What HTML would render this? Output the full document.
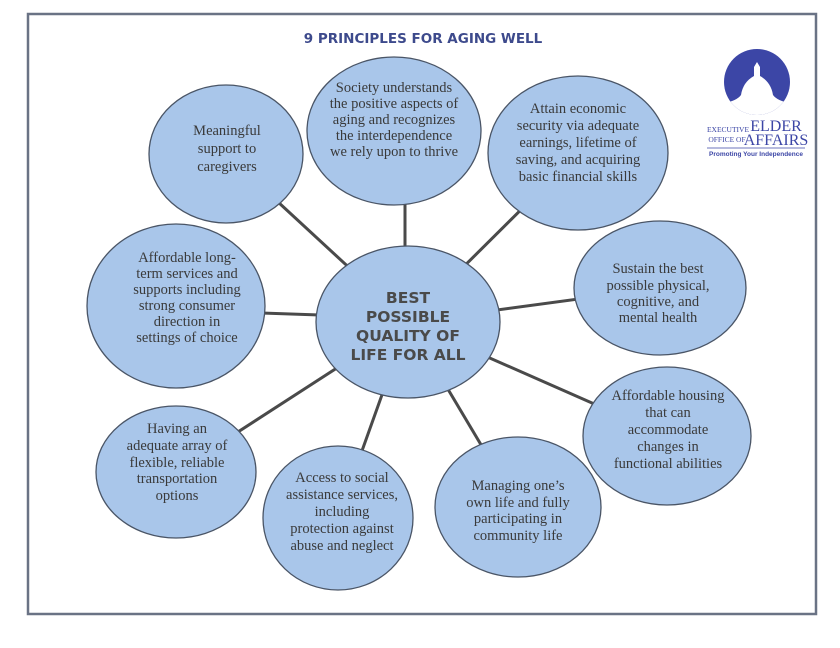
<!DOCTYPE html>
<html><head><meta charset="utf-8"><style>
html,body{margin:0;padding:0;background:#fff;}
svg{display:block}
.t{font-family:"Liberation Serif",serif;font-size:14.5px;fill:#3a3a3a;text-anchor:middle}
.c{font-family:"DejaVu Sans","Liberation Sans",sans-serif;font-weight:bold;font-size:15.5px;fill:#4a4a4a;text-anchor:middle}
</style></head><body>
<svg width="840" height="648" viewBox="0 0 840 648" xmlns="http://www.w3.org/2000/svg">
<rect x="28" y="14" width="788" height="600" fill="none" stroke="#6a7385" stroke-width="2.5"/>
<text x="423" y="43" font-family="DejaVu Sans, Liberation Sans, sans-serif" font-weight="bold" font-size="13.5" fill="#3d4a8c" text-anchor="middle">9 PRINCIPLES FOR AGING WELL</text>
<!-- logo -->
<defs><clipPath id="lc"><circle cx="757" cy="82" r="33"/></clipPath></defs>
<g>
<circle cx="757" cy="82" r="33" fill="#3c46a6"/>
<path clip-path="url(#lc)" d="M718 125 L718 104 Q736 102 741 95 Q743 82 754 76 L754 67 L757 62 L760 67 L760 76 Q771 82 773 95 Q778 102 796 104 L796 125 Z" fill="#fff"/>
<text x="776" y="131" font-family="Liberation Serif,serif" font-size="16" fill="#3c46a6" text-anchor="middle">ELDER</text>
<text x="728" y="132" font-family="Liberation Serif,serif" font-size="7.5" fill="#3c46a6" text-anchor="middle">EXECUTIVE</text>
<text x="727" y="142" font-family="Liberation Serif,serif" font-size="7.5" fill="#3c46a6" text-anchor="middle">OFFICE OF</text>
<text x="776" y="145" font-family="Liberation Serif,serif" font-size="16" fill="#3c46a6" text-anchor="middle">AFFAIRS</text>
<line x1="707" y1="148" x2="805" y2="148" stroke="#3c46a6" stroke-width="0.8"/>
<text x="756" y="156" font-family="Liberation Sans,sans-serif" font-weight="bold" font-size="6.5" fill="#3c46a6" text-anchor="middle">Promoting Your Independence</text>
</g>
<g stroke="#4a4a4a" stroke-width="3">
<line x1="408" y1="322" x2="226" y2="154"/>
<line x1="405" y1="322" x2="405" y2="131"/>
<line x1="408" y1="322" x2="578" y2="153"/>
<line x1="408" y1="318" x2="176" y2="310"/>
<line x1="408" y1="322" x2="660" y2="288"/>
<line x1="408" y1="322" x2="667" y2="436"/>
<line x1="408" y1="322" x2="176" y2="472"/>
<line x1="408" y1="322" x2="338" y2="518"/>
<line x1="408" y1="322" x2="518" y2="507"/>
</g>
<g fill="#a9c6ea" stroke="#4a5566" stroke-width="1.3">
<ellipse cx="226" cy="154" rx="77" ry="69"/>
<ellipse cx="394" cy="131" rx="87" ry="74"/>
<ellipse cx="578" cy="153" rx="90" ry="77"/>
<ellipse cx="176" cy="306" rx="89" ry="82"/>
<ellipse cx="660" cy="288" rx="86" ry="67"/>
<ellipse cx="667" cy="436" rx="84" ry="69"/>
<ellipse cx="176" cy="472" rx="80" ry="66"/>
<ellipse cx="338" cy="518" rx="75" ry="72"/>
<ellipse cx="518" cy="507" rx="83" ry="70"/>
<ellipse cx="408" cy="322" rx="92" ry="76"/>
</g>
<text class="c" x="408" y="303">BEST</text>
<text class="c" x="408" y="322">POSSIBLE</text>
<text class="c" x="408" y="341">QUALITY OF</text>
<text class="c" x="408" y="360">LIFE FOR ALL</text>
<text class="t" x="227" y="135">Meaningful</text><text class="t" x="227" y="153">support to</text><text class="t" x="227" y="171">caregivers</text>
<text class="t" x="394" y="92">Society understands</text><text class="t" x="394" y="108">the positive aspects of</text><text class="t" x="394" y="124">aging and recognizes</text><text class="t" x="394" y="140">the interdependence</text><text class="t" x="394" y="156">we rely upon to thrive</text>
<text class="t" x="578" y="113">Attain economic</text><text class="t" x="578" y="130">security via adequate</text><text class="t" x="578" y="147">earnings, lifetime of</text><text class="t" x="578" y="164">saving, and acquiring</text><text class="t" x="578" y="181">basic financial skills</text>
<text class="t" x="187" y="262">Affordable long-</text><text class="t" x="187" y="278">term services and</text><text class="t" x="187" y="294">supports including</text><text class="t" x="187" y="310">strong consumer</text><text class="t" x="187" y="326">direction in</text><text class="t" x="187" y="342">settings of choice</text>
<text class="t" x="658" y="273">Sustain the best</text><text class="t" x="658" y="290">possible physical,</text><text class="t" x="658" y="306">cognitive, and</text><text class="t" x="658" y="322">mental health</text>
<text class="t" x="668" y="400">Affordable housing</text><text class="t" x="668" y="417">that can</text><text class="t" x="668" y="434">accommodate</text><text class="t" x="668" y="451">changes in</text><text class="t" x="668" y="468">functional abilities</text>
<text class="t" x="177" y="433">Having an</text><text class="t" x="177" y="450">adequate array of</text><text class="t" x="177" y="467">flexible, reliable</text><text class="t" x="177" y="483">transportation</text><text class="t" x="177" y="500">options</text>
<text class="t" x="342" y="482">Access to social</text><text class="t" x="342" y="499">assistance services,</text><text class="t" x="342" y="516">including</text><text class="t" x="342" y="533">protection against</text><text class="t" x="342" y="550">abuse and neglect</text>
<text class="t" x="518" y="490">Managing one’s</text><text class="t" x="518" y="507">own life and fully</text><text class="t" x="518" y="523">participating in</text><text class="t" x="518" y="540">community life</text>
</svg>
</body></html>
